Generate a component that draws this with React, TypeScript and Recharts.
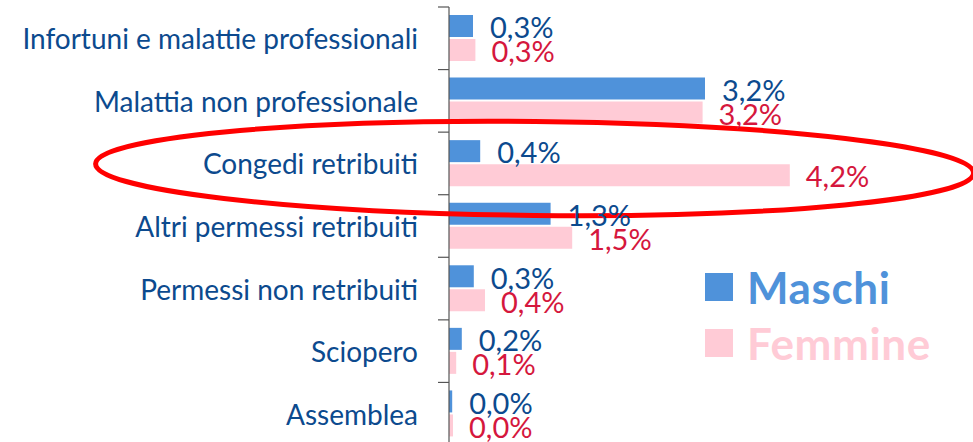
import React from "react";
import {
  BarChart,
  Bar,
  XAxis,
  YAxis,
  LabelList,
  ReferenceDot,
} from "recharts";

const categories = [
  "Infortuni e malattie professionali",
  "Malattia non professionale",
  "Congedi retribuiti",
  "Altri permessi retribuiti",
  "Permessi non retribuiti",
  "Sciopero",
  "Assemblea",
];
const maschiValues = [0.3, 3.2, 0.39, 1.27, 0.31, 0.16, 0.04];
const femmineValues = [0.33, 3.17, 4.26, 1.54, 0.45, 0.09, 0.05];
const maschiLabels = ["0,3%", "3,2%", "0,4%", "1,3%", "0,3%", "0,2%", "0,0%"];
const femmineLabels = ["0,3%", "3,2%", "4,2%", "1,5%", "0,4%", "0,1%", "0,0%"];

const BLUE = "#4f92da";
const PINK = "#ffcbd6";
const BLUE_TEXT = "#0c4a8e";
const RED_TEXT = "#d5173d";

const W = 973;
const H = 450;
const AXIS_X = 449;
const TOP = 7;
const BOTTOM = 5;
const BAND = (H - TOP - BOTTOM) / categories.length;

const data = categories.map((c, i) => ({
  name: c,
  maschi: maschiValues[i],
  femmine: femmineValues[i],
  mLabel: maschiLabels[i],
  fLabel: femmineLabels[i],
}));

const CategoryTick = (props: any) => {
  const { x, y, payload, index } = props;
  return (
    <g>
      <text
        x={x}
        y={y}
        textAnchor="end"
        dominantBaseline="central"
        fill={BLUE_TEXT}
        fontSize={28}
      >
        {payload.value}
      </text>
      <line x1={AXIS_X - 11} x2={AXIS_X} y1={y - BAND / 2} y2={y - BAND / 2} stroke="#555" strokeWidth={1.2} />
      {index === categories.length - 1 && (
        <line x1={AXIS_X - 11} x2={AXIS_X} y1={y + BAND / 2} y2={y + BAND / 2} stroke="#555" strokeWidth={1.2} />
      )}
    </g>
  );
};

const legendItems = [
  { name: "Maschi", color: BLUE },
  { name: "Femmine", color: PINK },
];

const ChartLegend = () => (
  <div
    style={{
      position: "absolute",
      left: 705,
      top: 264,
      display: "flex",
      flexDirection: "column",
      gap: 10,
    }}
  >
    {legendItems.map((s) => (
      <div key={s.name} style={{ display: "flex", alignItems: "center", gap: 14 }}>
        <div style={{ width: 28, height: 28, backgroundColor: s.color }} />
        <span style={{ color: s.color, fontSize: 44, fontWeight: 700, lineHeight: "46px", letterSpacing: 0.6 }}>
          {s.name}
        </span>
      </div>
    ))}
  </div>
);

const Ellipse = (props: any) => {
  const { cx, cy } = props;
  return (
    <ellipse
      cx={cx}
      cy={cy + 5}
      rx={439}
      ry={47}
      fill="none"
      stroke="#ff0000"
      strokeWidth={5}
      transform={`rotate(0.6 ${cx} ${cy + 5})`}
    />
  );
};

export default function App() {
  return (
    <div style={{ position: "absolute", left: 0, top: 0, width: W, height: H, fontFamily: "Lato", background: "#fff" }}>
      <BarChart
        width={W}
        height={H}
        data={data}
        layout="vertical"
        margin={{ top: TOP, right: 4, left: 0, bottom: BOTTOM }}
        barSize={22}
        barGap={2}
      >
        <XAxis type="number" domain={[0, 6.5]} hide />
        <YAxis
          type="category"
          dataKey="name"
          width={AXIS_X}
          tickSize={11}
          tickMargin={20}
          tickLine={false}
          axisLine={{ stroke: "#555", strokeWidth: 1.2 }}
          tick={<CategoryTick />}
          interval={0}
        />
        <Bar dataKey="maschi" name="Maschi" fill={BLUE} isAnimationActive={false}>
          <LabelList dataKey="mLabel" position="right" offset={17} fill={BLUE_TEXT} fontSize={29} dy={2} />
        </Bar>
        <Bar dataKey="femmine" name="Femmine" fill={PINK} isAnimationActive={false}>
          <LabelList dataKey="fLabel" position="right" offset={16} fill={RED_TEXT} fontSize={29} dy={2} />
        </Bar>
        <ReferenceDot x={1.07} y="Congedi retribuiti" ifOverflow="visible" shape={<Ellipse />} />
      </BarChart>
      <ChartLegend />
    </div>
  );
}
